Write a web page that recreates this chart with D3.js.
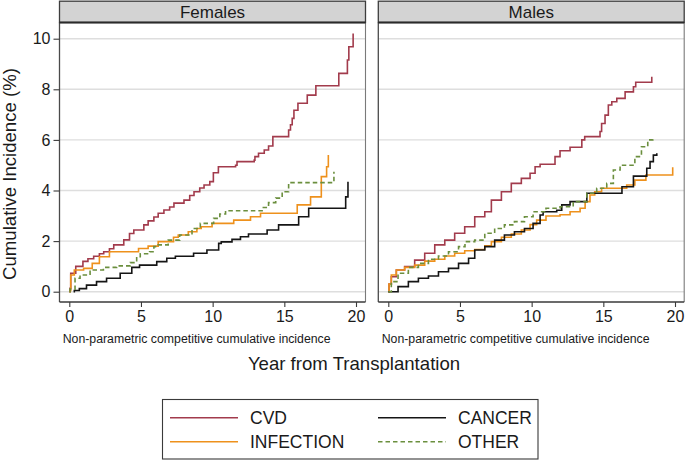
<!DOCTYPE html>
<html><head><meta charset="utf-8">
<script src="https://cdn.jsdelivr.net/npm/d3@7"></script>
<style>
body{margin:0;background:#fff}
svg{display:block}
text{font-family:"Liberation Sans",Arial,Helvetica,sans-serif;fill:#1a1a1a}
</style>
</head><body>
<svg id="chart" width="685" height="460"></svg>
<script>
// ---------------- data ----------------
const panelNames = ["Females", "Males"];
const causes = ["CVD", "INFECTION", "CANCER", "OTHER"];
const legendOrder = ["CVD", "CANCER", "INFECTION", "OTHER"];
const xTicks = [0, 5, 10, 15, 20];
const yTicks = [0, 2, 4, 6, 8, 10];
const xTitle = "Year from Transplantation";
const yTitle = "Cumulative Incidence (%)";
const subTitle = "Non-parametric competitive cumulative incidence";

// [year, cumulative incidence %]
const femalesCVD = [[0,0],[0.05,0.13],[0.1,0.73],[0.45,1.0],[0.95,1.2],[1.3,1.3],[1.7,1.4],[2.1,1.5],[2.4,1.58],[2.8,1.7],[3.1,1.85],[3.8,2.05],[4.2,2.3],[4.5,2.44],[5.2,2.64],[5.5,2.8],[5.9,2.95],[6.2,3.1],[6.6,3.23],[7.0,3.35],[7.3,3.5],[8.0,3.62],[8.4,3.8],[8.7,3.95],[9.1,4.1],[9.4,4.22],[9.8,4.35],[10.05,4.7],[10.4,4.94],[11.6,5.0],[11.7,5.14],[12.9,5.2],[12.95,5.34],[13.2,5.47],[13.6,5.6],[13.9,5.76],[14.2,6.13],[15.3,6.39],[15.43,6.6],[15.55,6.85],[15.67,7.17],[15.95,7.45],[16.6,7.77],[17.2,8.14],[18.8,8.63],[19.4,9.16],[19.5,9.68],[19.8,10.21]];
const femalesInfection = [[0,0],[0.05,0.05],[0.1,0.66],[0.35,0.86],[1.0,0.92],[1.6,1.12],[2.1,1.38],[2.8,1.58],[4.83,1.71],[5.5,1.8],[6.2,1.98],[7.27,2.15],[7.6,2.24],[8.3,2.37],[8.9,2.5],[9.2,2.57],[9.96,2.7],[11.47,2.83],[12.64,2.96],[13.34,3.1],[15.9,3.43],[16.83,3.75],[17.58,4.55],[17.95,4.94],[18.07,5.4]];
const femalesCancer = [[0.3,0],[0.35,0.05],[0.7,0.12],[1.2,0.26],[1.9,0.4],[2.6,0.53],[3.55,0.73],[4.36,0.96],[4.9,1.05],[6.1,1.19],[6.8,1.32],[7.4,1.4],[8.67,1.52],[9.6,1.65],[10.42,1.91],[10.6,1.97],[11.35,2.07],[11.94,2.17],[12.5,2.28],[13.8,2.44],[14.6,2.64],[16.0,2.96],[16.7,3.3],[19.28,3.75],[19.44,4.35]];
const femalesOther = [[0,0],[0.05,0.1],[0.4,0.53],[0.75,0.66],[1.45,0.86],[2.38,0.96],[3.3,1.02],[4.25,1.15],[4.7,1.38],[4.95,1.5],[5.6,1.58],[5.9,1.78],[6.2,1.85],[6.9,2.04],[7.7,2.24],[8.56,2.5],[9.14,2.7],[10.07,2.9],[10.5,3.07],[10.9,3.2],[13.45,3.33],[13.9,3.52],[14.4,3.7],[14.85,3.95],[15.3,4.31],[18.46,4.74]];

const malesCVD = [[0,0],[0.05,0.3],[0.21,0.59],[0.56,0.86],[1.14,0.99],[1.84,1.25],[2.54,1.52],[3.24,1.85],[3.94,2.04],[4.63,2.31],[5.33,2.57],[6.03,2.96],[6.73,3.16],[7.19,3.62],[7.89,3.95],[8.58,4.28],[9.28,4.48],[9.89,4.68],[10.24,4.94],[10.59,5.04],[11.63,5.34],[11.98,5.57],[12.68,5.71],[13.5,6.0],[13.7,6.13],[14.77,6.33],[14.88,6.65],[15.12,6.98],[15.35,7.38],[15.59,7.51],[15.94,7.64],[16.52,7.9],[17.1,8.1],[17.26,8.28],[18.38,8.5]];
const malesInfection = [[0,0],[0.05,0.3],[0.21,0.66],[0.56,0.86],[1.14,0.96],[1.84,1.05],[2.54,1.21],[3.24,1.28],[3.94,1.41],[4.63,1.52],[5.33,1.62],[6.03,1.67],[6.73,1.81],[7.19,1.98],[7.89,2.15],[8.58,2.28],[9.28,2.44],[9.89,2.65],[10.35,2.83],[11.0,2.99],[11.98,3.04],[12.68,3.16],[13.38,3.3],[13.73,3.56],[14.07,3.82],[14.4,3.95],[14.88,4.09],[16.63,4.22],[17.2,4.41],[17.97,4.61],[19.84,4.92]];
const malesCancer = [[0,0],[0.68,0.2],[1.4,0.4],[2.1,0.53],[2.8,0.62],[3.5,0.79],[4.2,0.92],[4.9,1.12],[5.6,1.32],[6.03,1.65],[6.73,1.78],[7.42,2.04],[8.1,2.24],[8.8,2.37],[9.5,2.5],[10.1,2.7],[10.59,3.03],[10.8,3.16],[11.75,3.22],[12.1,3.43],[12.68,3.56],[13.85,3.89],[16.3,4.15],[17.1,4.57],[18.03,4.88],[18.26,5.14],[18.49,5.4],[18.73,5.47]];
const malesOther = [[0,0],[0.21,0.4],[0.68,0.73],[1.4,0.96],[2.1,1.12],[2.8,1.28],[3.5,1.41],[4.2,1.58],[4.9,1.78],[5.35,1.98],[6.03,2.04],[6.73,2.31],[7.42,2.5],[8.1,2.64],[8.8,2.77],[9.5,2.96],[10.1,3.16],[11.0,3.3],[11.98,3.36],[12.9,3.56],[13.85,3.89],[14.54,4.09],[15.24,4.28],[15.7,4.81],[16.17,5.0],[17.2,5.34],[17.66,5.73],[18.1,6.0],[18.45,6.07]];

// ---------------- styling / layout ----------------
const colors = {CVD:"#a23b4c", INFECTION:"#ee911c", CANCER:"#151515", OTHER:"#6b8f3e"};
const dashes = {CVD:null, INFECTION:null, CANCER:null, OTHER:"4.5,3"};

const series = {
  Females: {CVD: femalesCVD, INFECTION: femalesInfection, CANCER: femalesCancer, OTHER: femalesOther},
  Males:   {CVD: malesCVD,   INFECTION: malesInfection,   CANCER: malesCancer,   OTHER: malesOther}
};

const layout = [
  {frame:[59.5, 365.5], range:[69.3, 356], yLabels:true, sub:62.7},
  {frame:[378.3, 684.2], range:[388.3, 675], yLabels:false, sub:381.7}
];
const headerTop = 1.2, headerBot = 22.5, plotBot = 302;

const svg = d3.select("#chart");
const y = d3.scaleLinear().domain([0, 10]).range([291.7, 38.7]);

panelNames.forEach((name, i) => {
  const L = layout[i];
  const x = d3.scaleLinear().domain([0, 20]).range(L.range);
  const g = svg.append("g");

  // gridlines
  g.selectAll("line.grid").data(yTicks).join("line")
    .attr("x1", L.frame[0]).attr("x2", L.frame[1])
    .attr("y1", d => y(d)).attr("y2", d => y(d))
    .attr("stroke", "#dedede").attr("stroke-width", 1.4);

  // frame sides
  g.append("line").attr("x1", L.frame[0]).attr("x2", L.frame[0]).attr("y1", headerBot).attr("y2", plotBot)
    .attr("stroke", "#4a4a4a").attr("stroke-width", 1.3);
  g.append("line").attr("x1", L.frame[1]).attr("x2", L.frame[1]).attr("y1", headerBot).attr("y2", plotBot)
    .attr("stroke", "#7a7a7a").attr("stroke-width", 1.1);

  // x axis
  const xa = g.append("g").attr("transform", `translate(0,${plotBot})`)
    .call(d3.axisBottom(x).tickValues(xTicks).tickFormat(d3.format("d")).tickSize(5).tickSizeOuter(0).tickPadding(4));
  xa.select(".domain").remove();
  xa.append("line").attr("x1", L.frame[0]).attr("x2", L.frame[1]).attr("y1", 0).attr("y2", 0)
    .attr("stroke", "#3a3a3a").attr("stroke-width", 1.4);
  xa.selectAll(".tick line").attr("stroke", "#3a3a3a").attr("stroke-width", 1.1);
  xa.selectAll(".tick text").attr("font-size", "16px").attr("fill", "#1a1a1a")
    .attr("font-family", "Liberation Sans, Arial, sans-serif");

  // y axis (labels only on left panel)
  if (L.yLabels) {
    const ya = g.append("g").attr("transform", `translate(${L.frame[0]},0)`)
      .call(d3.axisLeft(y).tickValues(yTicks).tickFormat(d3.format("d")).tickSize(6).tickSizeOuter(0).tickPadding(3));
    ya.select(".domain").remove();
    ya.selectAll(".tick line").attr("stroke", "#3a3a3a").attr("stroke-width", 1.1);
    ya.selectAll(".tick text").attr("font-size", "16px").attr("fill", "#1a1a1a")
      .attr("font-family", "Liberation Sans, Arial, sans-serif");
  }

  // header strip
  g.append("rect").attr("x", L.frame[0]).attr("y", headerTop)
    .attr("width", L.frame[1] - L.frame[0]).attr("height", headerBot - headerTop)
    .attr("fill", "#d3d3d3").attr("stroke", "#3d3d3d").attr("stroke-width", 1.3);
  g.append("line").attr("x1", L.frame[0]).attr("x2", L.frame[1]).attr("y1", headerBot).attr("y2", headerBot)
    .attr("stroke", "#2a2a2a").attr("stroke-width", 2);
  g.append("text").attr("x", (L.frame[0] + L.frame[1]) / 2).attr("y", (headerTop + headerBot) / 2 + 1)
    .attr("text-anchor", "middle").attr("dominant-baseline", "central")
    .attr("font-size", "17px").text(name);

  // lines
  const line = d3.line().x(d => x(d[0])).y(d => y(d[1])).curve(d3.curveStepAfter);
  causes.forEach(c => {
    g.append("path").datum(series[name][c])
      .attr("d", line).attr("fill", "none")
      .attr("stroke", colors[c]).attr("stroke-width", 1.6)
      .attr("stroke-dasharray", dashes[c]);
  });

  // subtitle
  g.append("text").attr("x", L.sub).attr("y", 338.5)
    .attr("dominant-baseline", "central").attr("font-size", "12.3px").attr("fill", "#222").text(subTitle);
});

// axis titles
svg.append("text").attr("x", 354).attr("y", 363.5).attr("text-anchor", "middle")
  .attr("dominant-baseline", "central").attr("font-size", "18.6px").text(xTitle);
svg.append("text").attr("transform", "translate(9.5,174) rotate(-90)").attr("text-anchor", "middle")
  .attr("dominant-baseline", "central").attr("font-size", "18.6px").text(yTitle);

// legend
const lg = svg.append("g");
lg.append("rect").attr("x", 162.5).attr("y", 399.5).attr("width", 375.5).attr("height", 59.5)
  .attr("fill", "#fff").attr("stroke", "#3a3a3a").attr("stroke-width", 1.1);
const legPos = [[170, 417.7], [378, 417.7], [170, 441.7], [378, 441.7]];
legendOrder.forEach((c, i) => {
  const [lx, ly] = legPos[i];
  lg.append("line").attr("x1", lx).attr("x2", lx + 68).attr("y1", ly).attr("y2", ly)
    .attr("stroke", colors[c]).attr("stroke-width", 1.6).attr("stroke-dasharray", dashes[c]);
  lg.append("text").attr("x", lx + 80).attr("y", ly + 0.5).attr("dominant-baseline", "central")
    .attr("font-size", "17.5px").text(c);
});
</script>
</body></html>
